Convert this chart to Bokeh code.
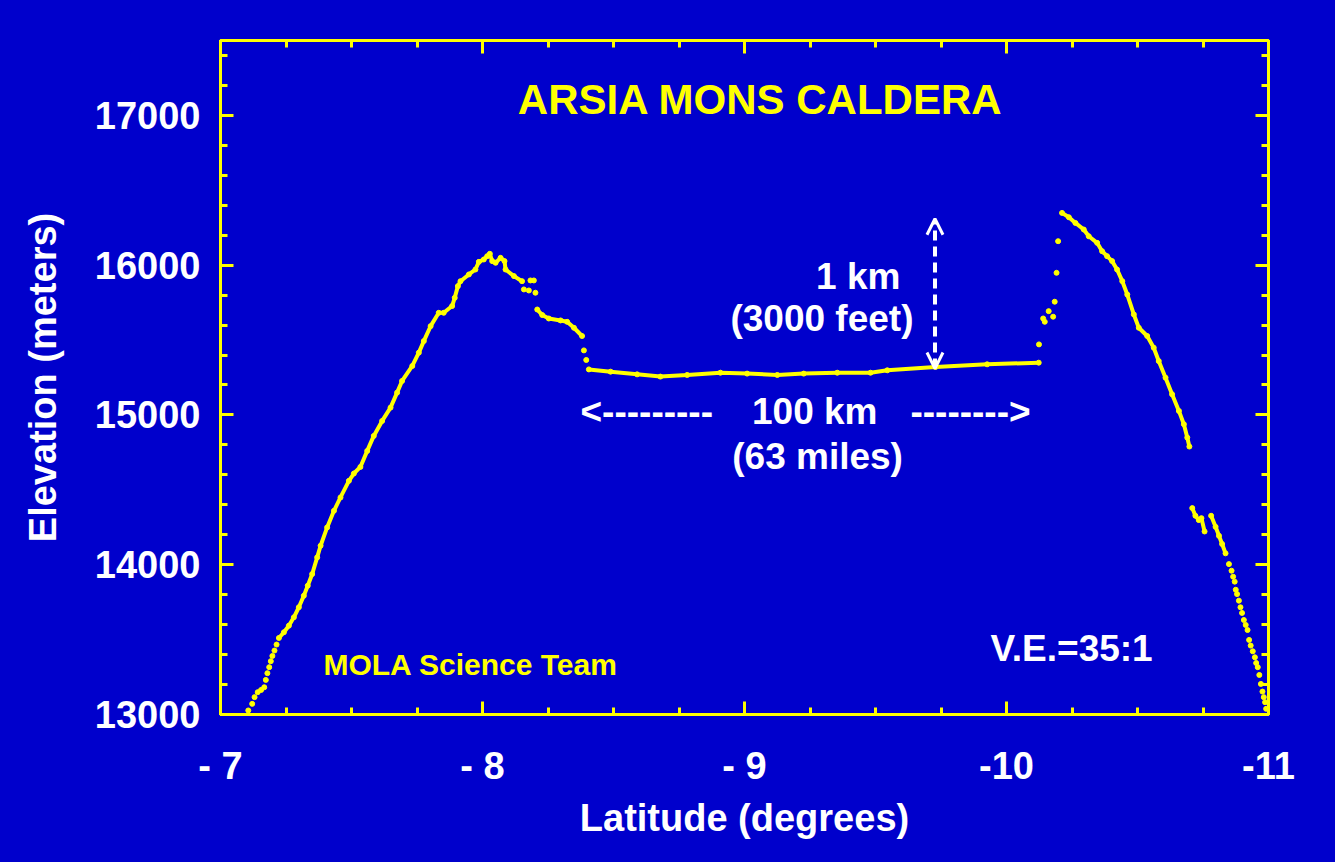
from bokeh.plotting import figure
from bokeh.models import (Range1d, FixedTicker, LinearAxis, Arrow, OpenHead,
                          CustomJSTickFormatter)
from bokeh.core.properties import value
from bokeh.embed import file_html
from bokeh.resources import INLINE

# MOLA profile across the Arsia Mons caldera
lat = [-7.106, -7.121, -7.130, -7.142, -7.155, -7.167, -7.173, -7.179, -7.186, -7.192,
       -7.198, -7.206, -7.214,
       -7.223, -7.242, -7.261, -7.280, -7.299, -7.318, -7.333, -7.350, -7.369, -7.382,
       -7.407, -7.433, -7.458, -7.490, -7.509, -7.534, -7.560, -7.585, -7.617, -7.649,
       -7.674, -7.693, -7.732, -7.757, -7.776, -7.802, -7.833, -7.852, -7.884, -7.894,
       -7.906, -7.916, -7.948, -7.973, -7.986, -8.005, -8.018, -8.028, -8.037, -8.050,
       -8.069, -8.084, -8.088, -8.120, -8.151,
       -8.158, -8.177, -8.183, -8.196, -8.202,
       -8.209, -8.228, -8.253, -8.298, -8.323, -8.349, -8.380,
       -8.387, -8.396,
       -8.406, -8.489, -8.590, -8.679, -8.781, -8.908, -9.010, -9.125, -9.226, -9.354,
       -9.481, -9.545, -9.729, -9.926, -10.123,
       -10.124, -10.140, -10.146, -10.161, -10.178, -10.184, -10.191, -10.197,
       -10.212, -10.238, -10.263, -10.295, -10.314, -10.346, -10.365, -10.384, -10.403,
       -10.422, -10.442, -10.461, -10.486, -10.505, -10.537, -10.562, -10.581, -10.607,
       -10.632, -10.658, -10.677, -10.690, -10.698,
       -10.709, -10.721, -10.734, -10.744, -10.756,
       -10.781, -10.798, -10.811, -10.823, -10.836,
       -10.849, -10.859, -10.865, -10.871, -10.875, -10.880, -10.887, -10.893, -10.899,
       -10.906, -10.913, -10.920, -10.926, -10.932, -10.940, -10.948, -10.953, -10.959,
       -10.965, -10.971, -10.977, -10.982, -10.987, -10.991]
elev = [13027, 13071, 13116, 13149, 13164, 13182, 13231, 13276, 13316, 13356,
        13391, 13427, 13467,
        13511, 13549, 13593, 13649, 13716, 13793, 13860, 13938, 14049, 14127,
        14249, 14360, 14449, 14560, 14609, 14653, 14760, 14860, 14960, 15049,
        15149, 15227, 15327, 15416, 15493, 15593, 15682, 15682, 15727, 15782,
        15860, 15893, 15938, 15971, 16022, 16038, 16060, 16076, 16027, 16016,
        16049, 16027, 15971, 15927, 15893,
        15838, 15831, 15898, 15898, 15816,
        15704, 15667, 15644, 15631, 15622, 15582, 15527,
        15431, 15367,
        15304, 15289, 15271, 15256, 15267, 15282, 15276, 15267, 15276, 15282,
        15282, 15298, 15320, 15338, 15349,
        15471, 15644, 15622, 15693, 15656, 15756, 15949, 16160,
        16349, 16320, 16282, 16238, 16193, 16149, 16093, 16060, 16027,
        15971, 15893, 15804, 15671, 15582, 15527, 15449, 15360, 15249,
        15138, 15027, 14938, 14849, 14789,
        14378, 14327, 14298, 14311, 14222,
        14327, 14253, 14193, 14138, 14076,
        14004, 13960, 13920, 13887, 13833, 13804, 13760, 13716, 13678,
        13631, 13598, 13564, 13498, 13460, 13422, 13382, 13344, 13316,
        13264, 13204, 13153, 13116, 13082, 13038]
# track piece of each point, 0 = lone shot
seg = [0] * 13 + [1] * 45 + [0] * 5 + [2] * 7 + [0] * 2 + [3] * 15 + [0] * 8 + \
      [4] * 23 + [5] * 5 + [6] * 5 + [0] * 24

xticks = [-7, -8, -9, -10, -11]
x_tick_labels = ["- 7", "- 8", "- 9", "-10", "-11"]
yticks = [13000, 14000, 15000, 16000, 17000]

bg = "#0000CC"
yel = "#FFFF00"
font = "Liberation Sans"

p = figure(frame_width=1048, frame_height=674, min_border_left=220, min_border_right=67,
           min_border_top=40, min_border_bottom=146,
           x_range=Range1d(-7, -11), y_range=Range1d(13000, 17500),
           output_backend="svg", toolbar_location=None,
           background_fill_color=bg, border_fill_color=bg)
p.grid.visible = False
p.outline_line_color = yel
p.outline_line_width = 3

bottom = p.below[0]
left = p.left[0]
top = LinearAxis()
right = LinearAxis()
p.add_layout(top, "above")
p.add_layout(right, "right")

xt = FixedTicker(ticks=xticks, minor_ticks=[-7 - 0.25 * i for i in range(17)])
yt = FixedTicker(ticks=yticks, minor_ticks=[13000 + 200 * i for i in range(23)])

for ax, tk in [(bottom, xt), (top, xt), (left, yt), (right, yt)]:
    ax.ticker = tk
    ax.axis_line_color = yel
    ax.axis_line_width = 3
    ax.major_tick_line_color = yel
    ax.major_tick_line_width = 3
    ax.minor_tick_line_color = yel
    ax.minor_tick_line_width = 3
    ax.major_tick_in = 13
    ax.major_tick_out = 0
    ax.minor_tick_in = 7
    ax.minor_tick_out = 0
    ax.major_label_text_color = "white"
    ax.major_label_text_font = font
    ax.major_label_text_font_style = "bold"
    ax.major_label_text_font_size = "38px"
    ax.axis_label_text_color = "white"
    ax.axis_label_text_font = font
    ax.axis_label_text_font_style = "bold"
    ax.axis_label_text_font_size = "38px"

for ax in (top, right):
    ax.formatter = CustomJSTickFormatter(code="return ''")
    ax.major_label_standoff = 0

bottom.major_label_overrides = dict(zip(xticks, x_tick_labels))
bottom.major_label_standoff = 30
bottom.axis_label = "Latitude (degrees)"
bottom.axis_label_standoff = 7
left.major_label_standoff = 20
left.axis_label = "Elevation (meters)"
left.axis_label_standoff = 28

# profile: joined pieces as lines, every shot as a dot
pieces = sorted(set(s for s in seg if s > 0))
xs = [[a for a, s in zip(lat, seg) if s == k] for k in pieces]
ys = [[b for b, s in zip(elev, seg) if s == k] for k in pieces]
p.multi_line(xs, ys, line_color=yel, line_width=4)
p.scatter(lat, elev, marker="circle", size=5, color=yel)

# labels
def note(x, y, s, color, size, align):
    p.text([x], [y], text=[s], text_color=color, text_font=value(font),
           text_font_style="bold", text_font_size=size, text_align=align,
           text_baseline="alphabetic")

note(-9.061, 17105, "ARSIA MONS CALDERA", yel, "42px", "center")
note(-7.393, 13333, "MOLA Science Team", yel, "30px", "left")
note(-9.939, 13440, "V.E.=35:1", "white", "37px", "left")
note(-9.595, 15925, "1 km", "white", "37px", "right")
note(-9.645, 15645, "(3000 feet)", "white", "37px", "right")
note(-8.374, 15025, "<---------", "white", "37px", "left")
note(-9.268, 15025, "100 km", "white", "37px", "center")
note(-10.092, 15025, "-------->", "white", "37px", "right")
note(-9.279, 14725, "(63 miles)", "white", "37px", "center")

# 1 km vertical scale bar
p.add_layout(Arrow(x_start=-9.727, y_start=15310, x_end=-9.727, y_end=16310,
                   line_color="white", line_width=4, line_dash="10 6",
                   start=OpenHead(size=16, line_color="white", line_width=3),
                   end=OpenHead(size=16, line_color="white", line_width=3)))

html = file_html(p, INLINE)
html = html.replace("</head>", "<style>body{background:#0000CC}</style></head>", 1)
open("out.html", "w").write(html)
